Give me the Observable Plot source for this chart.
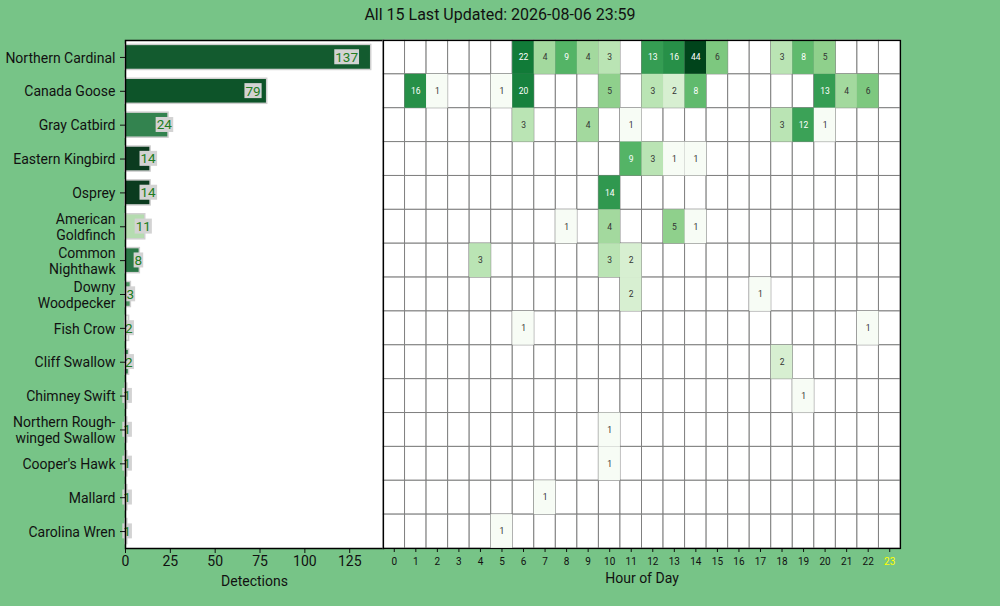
<!DOCTYPE html>
<html><head><meta charset="utf-8">
<script src="https://cdn.jsdelivr.net/npm/d3@7"></script>
<script src="https://cdn.jsdelivr.net/npm/@observablehq/plot@0.6"></script>
<style>
body{margin:0;background:#77c487;font-family:Roboto,sans-serif;}
#wrap{position:relative;width:1000px;height:606px;overflow:hidden;background:#77c487}
#title{position:absolute;top:4px;left:0;width:1000px;text-align:center;font-size:16px;color:#111;line-height:22px}
#left{position:absolute;left:0;top:30px}
#right{position:absolute;left:383px;top:30px}
</style></head><body>
<div id="wrap"><div id="title">All 15 Last Updated: 2026-08-06 23:59</div><div id="left"></div><div id="right"></div></div>
<script>
const species = ["Northern Cardinal","Canada Goose","Gray Catbird","Eastern Kingbird","Osprey","American Goldfinch","Common Nighthawk","Downy Woodpecker","Fish Crow","Cliff Swallow","Chimney Swift","Northern Rough-winged Swallow","Cooper's Hawk","Mallard","Carolina Wren"];
const tickLabels = ["Northern Cardinal","Canada Goose","Gray Catbird","Eastern Kingbird","Osprey","American\nGoldfinch","Common\nNighthawk","Downy\nWoodpecker","Fish Crow","Cliff Swallow","Chimney Swift","Northern Rough-\nwinged Swallow","Cooper's Hawk","Mallard","Carolina Wren"];
const totals = [137,79,24,14,14,11,8,3,2,2,1,1,1,1,1];
const confidence = [0.87,0.9,0.7,1,1,0.3,0.75,0.62,0.05,0.68,0.5,0.5,0.5,0.5,0.5];
const hours = d3.range(24);
const xTicks = [0,25,50,75,100,125];
// sparse hourly detections: species row index, hour, count
const cellRow   = [0,0,0,0,0,0,0,0,0,0,0,0, 1,1,1,1,1,1,1,1,1,1,1, 2,2,2,2,2,2, 3,3,3,3, 4, 5,5,5,5, 6,6,6, 7,7, 8,8, 9, 10, 11, 12, 13, 14];
const cellHour  = [6,7,8,9,10,12,13,14,15,18,19,20, 1,2,5,6,10,12,13,14,20,21,22, 6,9,11,18,19,20, 11,12,13,14, 10, 8,10,13,14, 4,10,11, 11,17, 6,22, 18, 19, 10, 10, 7, 5];
const cellCount = [22,4,9,4,3,13,16,44,6,3,8,5, 16,1,1,20,5,3,2,8,13,4,6, 3,4,1,3,12,1, 9,3,1,1, 14, 1,4,5,1, 3,3,2, 2,1, 1,1, 2, 1, 1, 1, 1, 1];

const bars = species.map((s,i)=>({species:s,total:totals[i],conf:confidence[i]}));
const labelOf = new Map(species.map((s,i)=>[s,tickLabels[i]]));

const left = Plot.plot({
  width:384, height:576, marginLeft:125, marginRight:1, marginTop:10, marginBottom:58,
  style:{background:"transparent", fontFamily:"Roboto", fontSize:"14px", color:"#111", overflow:"visible"},
  x:{domain:[0, d3.max(totals)*1.05]},
  y:{domain:species, paddingInner:0.26, paddingOuter:0.13, round:false},
  color:{type:"linear", domain:[0,0.3,0.7,0.9,1], range:["#f7fcf5","#b5dcb0","#33834f","#0d5429","#0b3b1f"]},
  marks:[
    Plot.frame({fill:"white"}),
    Plot.barX(bars,{x:"total", y:"species", fill:"conf", stroke:"#d0d0d0", strokeWidth:1.5, inset:0}),
    Plot.text(bars,{x:d=>d.total*0.9, y:"species", text:d=>String(d.total), fill:"#217d21", fontSize:13.5}),
    Plot.axisY({tickSize:5, tickPadding:5, tickFormat:d=>labelOf.get(d), lineHeight:1.15, label:null}),
    Plot.axisX(xTicks,{tickSize:5, tickPadding:3, label:null}),
    Plot.text(["Detections"],{frameAnchor:"bottom", dy:37, fontSize:14}),
    Plot.frame({stroke:"black", strokeWidth:1.5})
  ]
});
document.getElementById("left").appendChild(left);

const cells = cellRow.map((r,i)=>({species:species[r], hour:cellHour[i], count:cellCount[i]}));
const grid = d3.cross(species, hours, (s,h)=>({species:s,hour:h}));
const right = Plot.plot({
  width:617, height:576, marginLeft:0, marginRight:100, marginTop:10, marginBottom:58,
  style:{background:"transparent", fontFamily:"Roboto", fontSize:"10px", color:"#111", overflow:"visible"},
  x:{type:"band", domain:hours, padding:0, round:false},
  y:{type:"band", domain:species, padding:0, round:false, axis:null},
  color:{type:"log", scheme:"greens", domain:[1,44]},
  marks:[
    Plot.cell(grid,{x:"hour",y:"species",fill:"white",stroke:"#808080",strokeWidth:1,inset:0}),
    Plot.cell(cells,{x:"hour",y:"species",fill:"count",inset:0}),
    Plot.text(cells.filter(d=>d.count>=8),{x:"hour",y:"species",text:d=>String(d.count),fill:"white",fontSize:8.5}),
    Plot.text(cells.filter(d=>d.count<8),{x:"hour",y:"species",text:d=>String(d.count),fill:"#333",fontSize:8.5}),
    Plot.axisX(hours.filter(h=>h<23),{tickSize:4, tickPadding:5, fontSize:10, label:null}),
    Plot.axisX([23],{tickSize:4, tickPadding:5, fontSize:10, fill:"yellow", label:null}),
    Plot.text(["Hour of Day"],{frameAnchor:"bottom", dy:34, fontSize:14, fill:"#111"}),
    Plot.frame({stroke:"black", strokeWidth:1.2})
  ]
});
document.getElementById("right").appendChild(right);

// light-grey boxes behind the bar value labels, sized to the rendered text
const labelGroup = left.querySelectorAll('g[aria-label="text"]')[0];
if (labelGroup) labelGroup.querySelectorAll("text").forEach(t=>{
  const b=t.getBBox();
  const r=document.createElementNS("http://www.w3.org/2000/svg","rect");
  r.setAttribute("x",b.x-1); r.setAttribute("y",b.y+0.5);
  r.setAttribute("width",b.width+2); r.setAttribute("height",b.height-1);
  r.setAttribute("fill","#d3d3d3");
  if(t.getAttribute("transform")) r.setAttribute("transform",t.getAttribute("transform"));
  t.parentNode.insertBefore(r,t);
});
</script>
</body></html>
